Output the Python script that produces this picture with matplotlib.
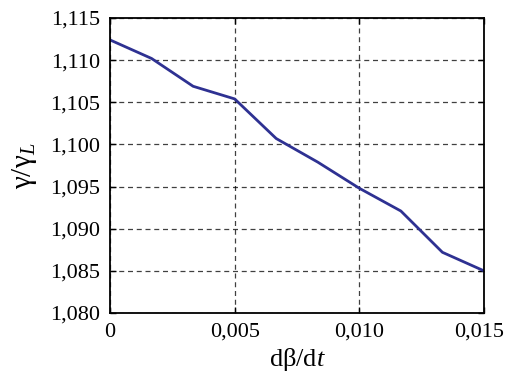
import matplotlib
matplotlib.use("Agg")
import matplotlib.pyplot as plt
import matplotlib.transforms as mtransforms

plt.rcParams['font.family'] = ['Liberation Serif', 'DejaVu Serif']
plt.rcParams['mathtext.fontset'] = 'custom'
plt.rcParams['mathtext.rm'] = 'Liberation Serif'
plt.rcParams['mathtext.it'] = 'Liberation Serif:italic'

x_vals = [0, 0.015/9, 2*0.015/9, 0.005, 4*0.015/9, 5*0.015/9, 0.010, 7*0.015/9, 8*0.015/9, 0.015]
y_vals = [1.1124, 1.1102, 1.1069, 1.1054, 1.1007, 1.0979, 1.0948, 1.0921, 1.0872, 1.0850]
x_ticks = [0, 0.005, 0.010, 0.015]
x_ticklabels = ['0', '0,005', '0,010', '0,015']
y_ticks = [1.080, 1.085, 1.090, 1.095, 1.100, 1.105, 1.110, 1.115]
y_ticklabels = ['1,080', '1,085', '1,090', '1,095', '1,100', '1,105', '1,110', '1,115']

fig = plt.figure(figsize=(5.06, 3.84), dpi=100)
ax = fig.add_axes([0.2174, 0.1849, 0.7391, 0.7682])
ax.plot(x_vals, y_vals, color='#2e3192', lw=2)
ax.set_xlim(0, 0.015)
ax.set_ylim(1.080, 1.115)
ax.set_xticks(x_ticks)
ax.set_xticklabels(x_ticklabels)
ax.set_yticks(y_ticks)
ax.set_yticklabels(y_ticklabels)
ax.tick_params(direction='in', top=True, right=True, labelsize=16, length=4, width=1, pad=7)
ax.grid(True, color='black', linestyle=(0, (4, 3)), lw=0.9, alpha=0.75)
for s in ax.spines.values():
    s.set_linewidth(1.3)
ax.set_xlabel(r'd$\mathrm{β}$/d$t$', fontsize=19, labelpad=3)
ax.set_ylabel(r'$\mathrm{γ/γ}_L$', fontsize=21, labelpad=8)

last = ax.get_xticklabels()[-1]
last.set_transform(last.get_transform() + mtransforms.ScaledTranslation(-0.05, 0, fig.dpi_scale_trans))

fig.savefig('out.png', dpi=100)
